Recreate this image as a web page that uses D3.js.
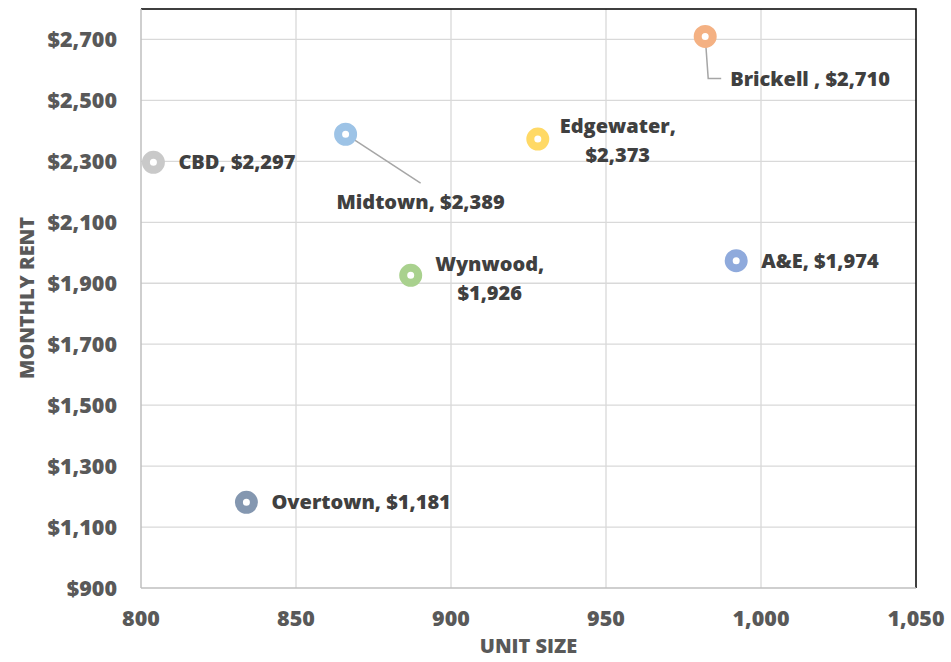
<!DOCTYPE html>
<html><head><meta charset="utf-8">
<script src="https://cdn.jsdelivr.net/npm/d3@7/dist/d3.min.js"></script>
<style>html,body{margin:0;padding:0;background:#fff;}svg{display:block;}</style>
</head><body>
<svg id="chart" width="951" height="662"></svg>
<script>
const names = ["CBD","Midtown","Edgewater","Brickell ","A&E","Wynwood","Overtown"];
const unitSize = [804,866,928,982,992,887,834];
const rent = [2297,2389,2373,2710,1974,1926,1181];
const colors = ["#c9c9c9","#9dc3e6","#ffd966","#f4b183","#8faadc","#a9d18e","#8497b0"];
const xTicks = [800,850,900,950,1000,1050];
const yTicks = [900,1100,1300,1500,1700,1900,2100,2300,2500,2700];
// label layout: mode, dx, dy (px offsets from the point)
const labelLayout = [
  {mode:"right", dx:25, dy:0},
  {mode:"below", dx:75, dy:68, leader:true},
  {mode:"two", dx:80, dy:-13},
  {mode:"right", dx:25, dy:43, leader:"elbow"},
  {mode:"right", dx:25, dy:0},
  {mode:"two", dx:79, dy:-11},
  {mode:"right", dx:25, dy:0}
];

const svg = d3.select("#chart");
const L = 141, R = 916, T = 9, B = 588;
const x = d3.scaleLinear().domain([800,1050]).range([L,R]);
const y = d3.scaleLinear().domain([900,2800]).range([B,T]);
const font = "'Open Sans', sans-serif";
const fs = 20, tfs = 21.5;

// gridlines
svg.append("g").selectAll("line").data(yTicks.slice(1)).join("line")
  .attr("x1",L).attr("x2",R).attr("y1",d=>y(d)).attr("y2",d=>y(d))
  .attr("stroke","#d9d9d9").attr("stroke-width",1.3);
svg.append("g").selectAll("line").data(xTicks.slice(1,-1)).join("line")
  .attr("y1",T).attr("y2",B).attr("x1",d=>x(d)).attr("x2",d=>x(d))
  .attr("stroke","#d9d9d9").attr("stroke-width",1.3);

// plot border (top/right black)
svg.append("path").attr("d",`M${L},${T}H${R}V${B}`).attr("fill","none").attr("stroke","#000").attr("stroke-width",1.5);
// axes lines
svg.append("line").attr("x1",L).attr("x2",L).attr("y1",T).attr("y2",B).attr("stroke","#bfbfbf").attr("stroke-width",1.5);
svg.append("line").attr("x1",L).attr("x2",R).attr("y1",B).attr("y2",B).attr("stroke","#bfbfbf").attr("stroke-width",1.5);

// tick labels
const fmtMoney = d => "$" + d3.format(",")(d);
svg.append("g").selectAll("text").data(yTicks).join("text")
  .attr("x",117).attr("y",d=>y(d)).attr("dy","0.35em").attr("text-anchor","end")
  .attr("font-family",font).attr("font-weight",800).attr("font-size",tfs).attr("fill","#595959")
  .text(fmtMoney);
svg.append("g").selectAll("text").data(xTicks).join("text")
  .attr("x",d=>x(d)).attr("y",618).attr("dy","0.35em").attr("text-anchor","middle")
  .attr("font-family",font).attr("font-weight",800).attr("font-size",tfs).attr("fill","#595959")
  .text(d=>d3.format(",")(d));

// axis titles
svg.append("text").attr("x",(L+R)/2).attr("y",646).attr("dy","0.35em").attr("text-anchor","middle")
  .attr("font-family",font).attr("font-weight",800).attr("font-size",20).attr("fill","#595959").text("UNIT SIZE");
svg.append("text").attr("transform","translate(27,298) rotate(-90)").attr("dy","0.35em").attr("text-anchor","middle")
  .attr("font-family",font).attr("font-weight",800).attr("font-size",20).attr("fill","#595959").text("MONTHLY RENT");

const pts = names.map((n,i)=>({name:n,x:unitSize[i],y:rent[i],c:colors[i],lay:labelLayout[i]}));

// leader lines
pts.forEach(p=>{
  const px = x(p.x), py = y(p.y), l = p.lay;
  if (l.leader === true) {
    svg.append("line").attr("x1",px).attr("y1",py).attr("x2",px+l.dx).attr("y2",py+l.dy-19)
      .attr("stroke","#a6a6a6").attr("stroke-width",1.5);
  } else if (l.leader === "elbow") {
    svg.append("path").attr("d",`M${px},${py}L${px+3},${py+l.dy-1}H${px+l.dx-9}`)
      .attr("fill","none").attr("stroke","#a6a6a6").attr("stroke-width",1.5);
  }
});

// markers
svg.append("g").selectAll("circle").data(pts).join("circle")
  .attr("cx",d=>x(d.x)).attr("cy",d=>y(d.y)).attr("r",7.5)
  .attr("fill","#fff").attr("stroke",d=>d.c).attr("stroke-width",8);

// labels
pts.forEach(p=>{
  const px = x(p.x), py = y(p.y), l = p.lay;
  const val = fmtMoney(p.y);
  const t = svg.append("text").attr("font-family",font).attr("font-weight",800)
    .attr("font-size",fs).attr("fill","#404040");
  if (l.mode === "right") {
    t.attr("x",px+l.dx).attr("y",py+l.dy).attr("dy","0.35em").attr("text-anchor","start")
      .text(p.name + ", " + val);
  } else if (l.mode === "below") {
    t.attr("x",px+l.dx).attr("y",py+l.dy).attr("dy","0.35em").attr("text-anchor","middle")
      .text(p.name + ", " + val);
  } else {
    t.attr("text-anchor","middle");
    t.append("tspan").attr("x",px+l.dx).attr("y",py+l.dy).attr("dy","0.35em").text(p.name + ",");
    t.append("tspan").attr("x",px+l.dx).attr("y",py+l.dy+29).attr("dy","0.35em").text(val);
  }
});
</script>
</body></html>
